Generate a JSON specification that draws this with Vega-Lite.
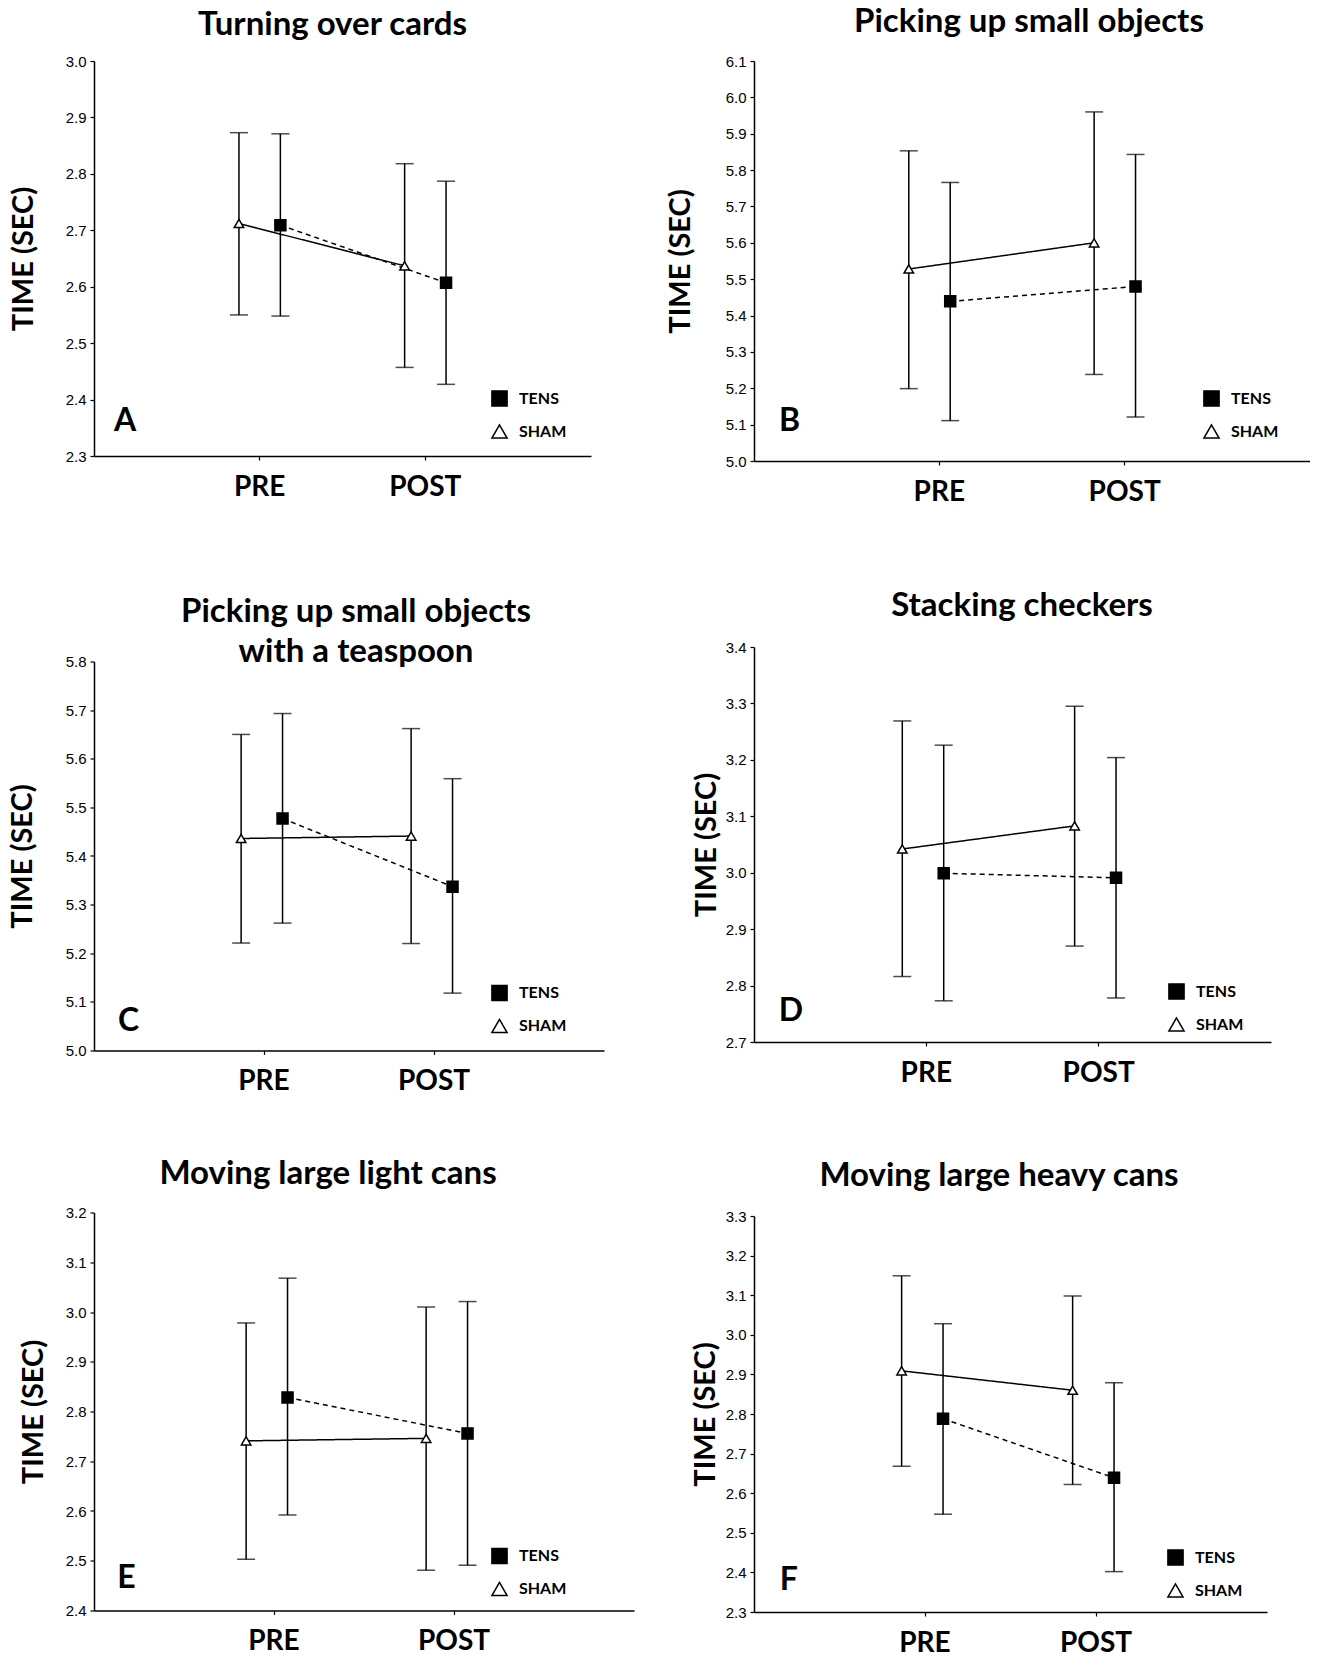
{
"$schema": "https://vega.github.io/schema/vega-lite/v6.json",
"background": "white",
"padding": {"left": 8, "top": 6, "right": 0, "bottom": 0},
"datasets": {
"stats": [
{"panel":"A","time":"PRE","group":"SHAM","mean":2.712,"lo":2.550,"hi":2.873},
{"panel":"A","time":"PRE","group":"TENS","mean":2.709,"lo":2.548,"hi":2.871},
{"panel":"A","time":"POST","group":"SHAM","mean":2.637,"lo":2.457,"hi":2.818},
{"panel":"A","time":"POST","group":"TENS","mean":2.607,"lo":2.427,"hi":2.787},
{"panel":"B","time":"PRE","group":"SHAM","mean":5.528,"lo":5.199,"hi":5.853},
{"panel":"B","time":"PRE","group":"TENS","mean":5.439,"lo":5.111,"hi":5.766},
{"panel":"B","time":"POST","group":"SHAM","mean":5.600,"lo":5.238,"hi":5.960},
{"panel":"B","time":"POST","group":"TENS","mean":5.480,"lo":5.121,"hi":5.843},
{"panel":"C","time":"PRE","group":"SHAM","mean":5.436,"lo":5.221,"hi":5.650},
{"panel":"C","time":"PRE","group":"TENS","mean":5.477,"lo":5.262,"hi":5.693},
{"panel":"C","time":"POST","group":"SHAM","mean":5.441,"lo":5.220,"hi":5.662},
{"panel":"C","time":"POST","group":"TENS","mean":5.337,"lo":5.118,"hi":5.559},
{"panel":"D","time":"PRE","group":"SHAM","mean":3.042,"lo":2.816,"hi":3.269},
{"panel":"D","time":"PRE","group":"TENS","mean":2.999,"lo":2.773,"hi":3.226},
{"panel":"D","time":"POST","group":"SHAM","mean":3.083,"lo":2.870,"hi":3.295},
{"panel":"D","time":"POST","group":"TENS","mean":2.991,"lo":2.778,"hi":3.204},
{"panel":"E","time":"PRE","group":"SHAM","mean":2.741,"lo":2.503,"hi":2.978},
{"panel":"E","time":"PRE","group":"TENS","mean":2.828,"lo":2.592,"hi":3.068},
{"panel":"E","time":"POST","group":"SHAM","mean":2.746,"lo":2.481,"hi":3.010},
{"panel":"E","time":"POST","group":"TENS","mean":2.756,"lo":2.491,"hi":3.021},
{"panel":"F","time":"PRE","group":"SHAM","mean":2.909,"lo":2.668,"hi":3.149},
{"panel":"F","time":"PRE","group":"TENS","mean":2.788,"lo":2.547,"hi":3.028},
{"panel":"F","time":"POST","group":"SHAM","mean":2.860,"lo":2.622,"hi":3.098},
{"panel":"F","time":"POST","group":"TENS","mean":2.639,"lo":2.402,"hi":2.879}
],
"letters": [
{"panel":"A","letter":"A"},{"panel":"B","letter":"B"},{"panel":"C","letter":"C"},
{"panel":"D","letter":"D"},{"panel":"E","letter":"E"},{"panel":"F","letter":"F"}
]
},
"config": {
"view": {"stroke": null},
"title": {"font": "Lato", "fontSize": 33, "fontWeight": "bold", "color": "black", "anchor": "middle", "frame": "group", "offset": 22, "lineHeight": 40},
"axis": {"grid": false, "domainColor": "black", "domainWidth": 1.5, "tickColor": "black", "tickWidth": 1.2, "labelColor": "black", "titleColor": "black"},
"axisX": {"labelFont": "Lato", "labelFontWeight": "bold", "labelFontSize": 28, "labelPadding": 13, "tickSize": 4, "labelAngle": 0, "title": null},
"axisY": {"labelFont": "Liberation Sans", "labelFontSize": 15, "labelPadding": 4, "tickSize": 4, "titleFont": "Lato", "titleFontSize": 29, "titleFontWeight": "bold", "titlePadding": 22, "format": ".1f"},
"legend": {"orient": "none", "padding": 0, "labelFont": "Lato", "labelFontWeight": "bold", "labelFontSize": 16, "labelColor": "black", "symbolSize": 230, "rowPadding": 11, "labelOffset": 11}
},
"spacing": 32,
"resolve": {"scale": {"shape": "independent", "fill": "independent"}},
"hconcat": [
{"spacing": 94.5,
 "resolve": {"scale": {"shape": "independent", "fill": "independent"}},
 "vconcat": [
 {"width": 497, "height": 395, "title": {"text": "Turning over cards", "dx": -10, "offset": 12},
  "resolve": {"scale": {"x": "independent"}},
  "layer": [
   {"data": {"name": "stats"}, "transform": [{"filter": "datum.panel == 'A'"}],
    "encoding": {
     "x": {"field": "time", "type": "nominal", "scale": {"domain": ["PRE","POST"], "paddingInner": 0, "paddingOuter": 0.5}},
     "xOffset": {"field": "group", "type": "nominal", "scale": {"domain": ["SHAM","TENS"], "paddingInner": 0, "paddingOuter": 2.25}},
     "y": {"field": "mean", "type": "quantitative", "scale": {"domain": [2.3, 3.0], "nice": false, "zero": false}, "axis": {"title": "TIME (SEC)", "tickCount": 7, "titlePadding": 27}}
    },
    "layer": [
     {"mark": {"type": "rule", "color": "black", "strokeWidth": 1.5}, "encoding": {"y": {"field": "lo", "type": "quantitative"}, "y2": {"field": "hi"}}},
     {"mark": {"type": "tick", "color": "black", "thickness": 1.5, "size": 18}, "encoding": {"y": {"field": "lo", "type": "quantitative"}}},
     {"mark": {"type": "tick", "color": "black", "thickness": 1.5, "size": 18}, "encoding": {"y": {"field": "hi", "type": "quantitative"}}},
     {"mark": {"type": "line", "color": "black", "strokeWidth": 1.5}, "encoding": {"detail": {"field": "group"}, "strokeDash": {"condition": {"test": "datum.group == 'TENS'", "value": [5,4]}, "value": [1,0]}}},
     {"mark": {"type": "point", "filled": true, "stroke": "black", "strokeWidth": 1.5, "opacity": 1},
      "encoding": {
       "shape": {"field": "group", "type": "nominal", "title": null, "scale": {"domain": ["TENS","SHAM"], "range": ["square","triangle-up"]}, "legend": {"legendX": 397, "legendY": 329, "encode": {"symbols": {"update": {"stroke": {"value": "black"}, "strokeWidth": {"value": 2.2}}}}}},
       "fill": {"field": "group", "type": "nominal", "title": null, "scale": {"domain": ["TENS","SHAM"], "range": ["black","white"]}},
       "size": {"condition": {"test": "datum.group == 'TENS'", "value": 121}, "value": 90}
      }}
    ]},
   {"data": {"name": "letters"}, "transform": [{"filter": "datum.panel == 'A'"}],
    "mark": {"type": "text", "font": "Lato", "fontWeight": "bold", "fontSize": 32, "align": "left", "baseline": "alphabetic", "color": "black"},
    "encoding": {"text": {"field": "letter"}, "x": {"datum": 0.04, "type": "quantitative", "scale": {"domain": [0, 1]}, "axis": null}, "y": {"datum": 2.345, "type": "quantitative"}}}
  ]},
 {"spacing": 62,
  "resolve": {"scale": {"shape": "independent", "fill": "independent"}},
  "vconcat": [
  {"width": 510, "height": 389, "title": {"text": ["Picking up small objects", "with a teaspoon"], "dx": 7, "offset": -14},
   "resolve": {"scale": {"x": "independent"}},
   "layer": [
    {"data": {"name": "stats"}, "transform": [{"filter": "datum.panel == 'C'"}],
     "encoding": {
      "x": {"field": "time", "type": "nominal", "scale": {"domain": ["PRE","POST"], "paddingInner": 0, "paddingOuter": 0.5}},
      "xOffset": {"field": "group", "type": "nominal", "scale": {"domain": ["SHAM","TENS"], "paddingInner": 0, "paddingOuter": 2.25}},
      "y": {"field": "mean", "type": "quantitative", "scale": {"domain": [5.0, 5.8], "nice": false, "zero": false}, "axis": {"title": "TIME (SEC)", "tickCount": 8, "titlePadding": 28}}
     },
     "layer": [
      {"mark": {"type": "rule", "color": "black", "strokeWidth": 1.5}, "encoding": {"y": {"field": "lo", "type": "quantitative"}, "y2": {"field": "hi"}}},
      {"mark": {"type": "tick", "color": "black", "thickness": 1.5, "size": 18}, "encoding": {"y": {"field": "lo", "type": "quantitative"}}},
      {"mark": {"type": "tick", "color": "black", "thickness": 1.5, "size": 18}, "encoding": {"y": {"field": "hi", "type": "quantitative"}}},
      {"mark": {"type": "line", "color": "black", "strokeWidth": 1.5}, "encoding": {"detail": {"field": "group"}, "strokeDash": {"condition": {"test": "datum.group == 'TENS'", "value": [5,4]}, "value": [1,0]}}},
      {"mark": {"type": "point", "filled": true, "stroke": "black", "strokeWidth": 1.5, "opacity": 1},
       "encoding": {
        "shape": {"field": "group", "type": "nominal", "title": null, "scale": {"domain": ["TENS","SHAM"], "range": ["square","triangle-up"]}, "legend": {"legendX": 397, "legendY": 323, "encode": {"symbols": {"update": {"stroke": {"value": "black"}, "strokeWidth": {"value": 2.2}}}}}},
        "fill": {"field": "group", "type": "nominal", "title": null, "scale": {"domain": ["TENS","SHAM"], "range": ["black","white"]}},
        "size": {"condition": {"test": "datum.group == 'TENS'", "value": 121}, "value": 90}
       }}
     ]},
    {"data": {"name": "letters"}, "transform": [{"filter": "datum.panel == 'C'"}],
     "mark": {"type": "text", "font": "Lato", "fontWeight": "bold", "fontSize": 32, "align": "left", "baseline": "alphabetic", "color": "black"},
     "encoding": {"text": {"field": "letter"}, "x": {"datum": 0.047, "type": "quantitative", "scale": {"domain": [0, 1]}, "axis": null}, "y": {"datum": 5.041, "type": "quantitative"}}}
   ]},
  {"width": 540, "height": 398, "title": {"text": "Moving large light cans", "dx": -36, "offset": 15},
   "resolve": {"scale": {"x": "independent"}},
   "layer": [
    {"data": {"name": "stats"}, "transform": [{"filter": "datum.panel == 'E'"}],
     "encoding": {
      "x": {"field": "time", "type": "nominal", "scale": {"domain": ["PRE","POST"], "paddingInner": 0, "paddingOuter": 0.5}},
      "xOffset": {"field": "group", "type": "nominal", "scale": {"domain": ["SHAM","TENS"], "paddingInner": 0, "paddingOuter": 2.25}},
      "y": {"field": "mean", "type": "quantitative", "scale": {"domain": [2.4, 3.2], "nice": false, "zero": false}, "axis": {"title": "TIME (SEC)", "tickCount": 8, "titlePadding": 17}}
     },
     "layer": [
      {"mark": {"type": "rule", "color": "black", "strokeWidth": 1.5}, "encoding": {"y": {"field": "lo", "type": "quantitative"}, "y2": {"field": "hi"}}},
      {"mark": {"type": "tick", "color": "black", "thickness": 1.5, "size": 18}, "encoding": {"y": {"field": "lo", "type": "quantitative"}}},
      {"mark": {"type": "tick", "color": "black", "thickness": 1.5, "size": 18}, "encoding": {"y": {"field": "hi", "type": "quantitative"}}},
      {"mark": {"type": "line", "color": "black", "strokeWidth": 1.5}, "encoding": {"detail": {"field": "group"}, "strokeDash": {"condition": {"test": "datum.group == 'TENS'", "value": [5,4]}, "value": [1,0]}}},
      {"mark": {"type": "point", "filled": true, "stroke": "black", "strokeWidth": 1.5, "opacity": 1},
       "encoding": {
        "shape": {"field": "group", "type": "nominal", "title": null, "scale": {"domain": ["TENS","SHAM"], "range": ["square","triangle-up"]}, "legend": {"legendX": 397, "legendY": 335, "encode": {"symbols": {"update": {"stroke": {"value": "black"}, "strokeWidth": {"value": 2.2}}}}}},
        "fill": {"field": "group", "type": "nominal", "title": null, "scale": {"domain": ["TENS","SHAM"], "range": ["black","white"]}},
        "size": {"condition": {"test": "datum.group == 'TENS'", "value": 121}, "value": 90}
       }}
     ]},
    {"data": {"name": "letters"}, "transform": [{"filter": "datum.panel == 'E'"}],
     "mark": {"type": "text", "font": "Lato", "fontWeight": "bold", "fontSize": 32, "align": "left", "baseline": "alphabetic", "color": "black"},
     "encoding": {"text": {"field": "letter"}, "x": {"datum": 0.043, "type": "quantitative", "scale": {"domain": [0, 1]}, "axis": null}, "y": {"datum": 2.446, "type": "quantitative"}}}
   ]}
  ]}
 ]},
{"spacing": 84,
 "resolve": {"scale": {"shape": "independent", "fill": "independent"}},
 "vconcat": [
 {"width": 556, "height": 400, "title": {"text": "Picking up small objects", "dx": -3, "offset": 15},
  "resolve": {"scale": {"x": "independent"}},
  "layer": [
   {"data": {"name": "stats"}, "transform": [{"filter": "datum.panel == 'B'"}],
    "encoding": {
     "x": {"field": "time", "type": "nominal", "scale": {"domain": ["PRE","POST"], "paddingInner": 0, "paddingOuter": 0.5}},
     "xOffset": {"field": "group", "type": "nominal", "scale": {"domain": ["SHAM","TENS"], "paddingInner": 0, "paddingOuter": 2.25}},
     "y": {"field": "mean", "type": "quantitative", "scale": {"domain": [5.0, 6.1], "nice": false, "zero": false}, "axis": {"title": "TIME (SEC)", "tickCount": 11, "titlePadding": 30}}
    },
    "layer": [
     {"mark": {"type": "rule", "color": "black", "strokeWidth": 1.5}, "encoding": {"y": {"field": "lo", "type": "quantitative"}, "y2": {"field": "hi"}}},
     {"mark": {"type": "tick", "color": "black", "thickness": 1.5, "size": 18}, "encoding": {"y": {"field": "lo", "type": "quantitative"}}},
     {"mark": {"type": "tick", "color": "black", "thickness": 1.5, "size": 18}, "encoding": {"y": {"field": "hi", "type": "quantitative"}}},
     {"mark": {"type": "line", "color": "black", "strokeWidth": 1.5}, "encoding": {"detail": {"field": "group"}, "strokeDash": {"condition": {"test": "datum.group == 'TENS'", "value": [5,4]}, "value": [1,0]}}},
     {"mark": {"type": "point", "filled": true, "stroke": "black", "strokeWidth": 1.5, "opacity": 1},
      "encoding": {
       "shape": {"field": "group", "type": "nominal", "title": null, "scale": {"domain": ["TENS","SHAM"], "range": ["square","triangle-up"]}, "legend": {"legendX": 449, "legendY": 329, "encode": {"symbols": {"update": {"stroke": {"value": "black"}, "strokeWidth": {"value": 2.2}}}}}},
       "fill": {"field": "group", "type": "nominal", "title": null, "scale": {"domain": ["TENS","SHAM"], "range": ["black","white"]}},
       "size": {"condition": {"test": "datum.group == 'TENS'", "value": 121}, "value": 90}
      }}
    ]},
   {"data": {"name": "letters"}, "transform": [{"filter": "datum.panel == 'B'"}],
    "mark": {"type": "text", "font": "Lato", "fontWeight": "bold", "fontSize": 32, "align": "left", "baseline": "alphabetic", "color": "black"},
    "encoding": {"text": {"field": "letter"}, "x": {"datum": 0.045, "type": "quantitative", "scale": {"domain": [0, 1]}, "axis": null}, "y": {"datum": 5.082, "type": "quantitative"}}}
  ]},
 {"spacing": 72,
  "resolve": {"scale": {"shape": "independent", "fill": "independent"}},
  "vconcat": [
  {"width": 517, "height": 395, "title": {"text": "Stacking checkers", "dx": 9.5, "offset": 17},
   "resolve": {"scale": {"x": "independent"}},
   "layer": [
    {"data": {"name": "stats"}, "transform": [{"filter": "datum.panel == 'D'"}],
     "encoding": {
      "x": {"field": "time", "type": "nominal", "scale": {"domain": ["PRE","POST"], "paddingInner": 0, "paddingOuter": 0.5}},
      "xOffset": {"field": "group", "type": "nominal", "scale": {"domain": ["SHAM","TENS"], "paddingInner": 0, "paddingOuter": 2.25}},
      "y": {"field": "mean", "type": "quantitative", "scale": {"domain": [2.7, 3.4], "nice": false, "zero": false}, "axis": {"title": "TIME (SEC)", "tickCount": 7, "titlePadding": 4}}
     },
     "layer": [
      {"mark": {"type": "rule", "color": "black", "strokeWidth": 1.5}, "encoding": {"y": {"field": "lo", "type": "quantitative"}, "y2": {"field": "hi"}}},
      {"mark": {"type": "tick", "color": "black", "thickness": 1.5, "size": 18}, "encoding": {"y": {"field": "lo", "type": "quantitative"}}},
      {"mark": {"type": "tick", "color": "black", "thickness": 1.5, "size": 18}, "encoding": {"y": {"field": "hi", "type": "quantitative"}}},
      {"mark": {"type": "line", "color": "black", "strokeWidth": 1.5}, "encoding": {"detail": {"field": "group"}, "strokeDash": {"condition": {"test": "datum.group == 'TENS'", "value": [5,4]}, "value": [1,0]}}},
      {"mark": {"type": "point", "filled": true, "stroke": "black", "strokeWidth": 1.5, "opacity": 1},
       "encoding": {
        "shape": {"field": "group", "type": "nominal", "title": null, "scale": {"domain": ["TENS","SHAM"], "range": ["square","triangle-up"]}, "legend": {"legendX": 414, "legendY": 336, "encode": {"symbols": {"update": {"stroke": {"value": "black"}, "strokeWidth": {"value": 2.2}}}}}},
        "fill": {"field": "group", "type": "nominal", "title": null, "scale": {"domain": ["TENS","SHAM"], "range": ["black","white"]}},
        "size": {"condition": {"test": "datum.group == 'TENS'", "value": 121}, "value": 90}
       }}
     ]},
    {"data": {"name": "letters"}, "transform": [{"filter": "datum.panel == 'D'"}],
     "mark": {"type": "text", "font": "Lato", "fontWeight": "bold", "fontSize": 32, "align": "left", "baseline": "alphabetic", "color": "black"},
     "encoding": {"text": {"field": "letter"}, "x": {"datum": 0.048, "type": "quantitative", "scale": {"domain": [0, 1]}, "axis": null}, "y": {"datum": 2.737, "type": "quantitative"}}}
   ]},
  {"width": 513, "height": 396, "title": {"text": "Moving large heavy cans", "dx": -11.5, "offset": 16.5},
   "resolve": {"scale": {"x": "independent"}},
   "layer": [
    {"data": {"name": "stats"}, "transform": [{"filter": "datum.panel == 'F'"}],
     "encoding": {
      "x": {"field": "time", "type": "nominal", "scale": {"domain": ["PRE","POST"], "paddingInner": 0, "paddingOuter": 0.5}},
      "xOffset": {"field": "group", "type": "nominal", "scale": {"domain": ["SHAM","TENS"], "paddingInner": 0, "paddingOuter": 2.25}},
      "y": {"field": "mean", "type": "quantitative", "scale": {"domain": [2.3, 3.3], "nice": false, "zero": false}, "axis": {"title": "TIME (SEC)", "tickCount": 10, "titlePadding": 5}}
     },
     "layer": [
      {"mark": {"type": "rule", "color": "black", "strokeWidth": 1.5}, "encoding": {"y": {"field": "lo", "type": "quantitative"}, "y2": {"field": "hi"}}},
      {"mark": {"type": "tick", "color": "black", "thickness": 1.5, "size": 18}, "encoding": {"y": {"field": "lo", "type": "quantitative"}}},
      {"mark": {"type": "tick", "color": "black", "thickness": 1.5, "size": 18}, "encoding": {"y": {"field": "hi", "type": "quantitative"}}},
      {"mark": {"type": "line", "color": "black", "strokeWidth": 1.5}, "encoding": {"detail": {"field": "group"}, "strokeDash": {"condition": {"test": "datum.group == 'TENS'", "value": [5,4]}, "value": [1,0]}}},
      {"mark": {"type": "point", "filled": true, "stroke": "black", "strokeWidth": 1.5, "opacity": 1},
       "encoding": {
        "shape": {"field": "group", "type": "nominal", "title": null, "scale": {"domain": ["TENS","SHAM"], "range": ["square","triangle-up"]}, "legend": {"legendX": 413, "legendY": 333, "encode": {"symbols": {"update": {"stroke": {"value": "black"}, "strokeWidth": {"value": 2.2}}}}}},
        "fill": {"field": "group", "type": "nominal", "title": null, "scale": {"domain": ["TENS","SHAM"], "range": ["black","white"]}},
        "size": {"condition": {"test": "datum.group == 'TENS'", "value": 121}, "value": 90}
       }}
     ]},
    {"data": {"name": "letters"}, "transform": [{"filter": "datum.panel == 'F'"}],
     "mark": {"type": "text", "font": "Lato", "fontWeight": "bold", "fontSize": 32, "align": "left", "baseline": "alphabetic", "color": "black"},
     "encoding": {"text": {"field": "letter"}, "x": {"datum": 0.05, "type": "quantitative", "scale": {"domain": [0, 1]}, "axis": null}, "y": {"datum": 2.356, "type": "quantitative"}}}
   ]}
  ]}
 ]}
]
}
